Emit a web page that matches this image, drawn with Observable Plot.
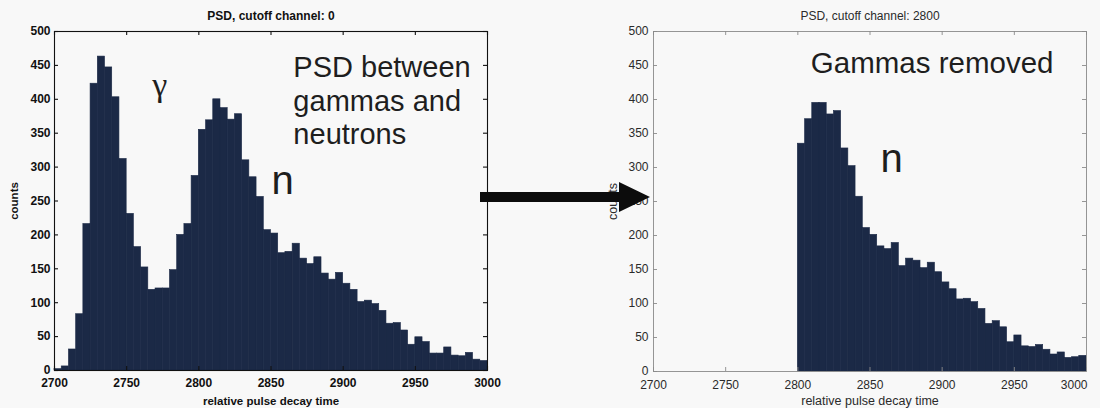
<!DOCTYPE html>
<html>
<head>
<meta charset="utf-8">
<script src="https://cdn.jsdelivr.net/npm/d3@7"></script>
<script src="https://cdn.jsdelivr.net/npm/@observablehq/plot@0.6"></script>
<style>
  html, body { margin: 0; padding: 0; background: #f8f8f8; }
  #wrap { position: relative; width: 1100px; height: 408px; overflow: hidden; }
  #left, #right { position: absolute; top: 0; }
  #left { left: 0; }
  #right { left: 600px; }
  #arrow { position: absolute; left: 0; top: 0; pointer-events: none; }
</style>
</head>
<body>
<div id="wrap">
  <div id="left"></div>
  <div id="right"></div>
  <!-- arrow from the full spectrum to the cut spectrum -->
  <svg id="arrow" width="1100" height="408">
    <path d="M480,192 H619 V182 L650,197 L619,212 V202 H480 Z" fill="#0c0c0c"/>
  </svg>
</div>
<script>
// Histogram bin width (channels) and first bin edge of each spectrum
const binWidth = 5;
const fullStart = 2700;
const cutStart = 2800;

// Counts per bin, full spectrum (cutoff channel 0), bins from 2700 to 3000
const fullCounts = [
  2, 6, 31, 83, 216, 423, 463, 447, 403, 312,
  231, 182, 152, 119, 121, 121, 148, 200, 216, 287,
  355, 369, 400, 387, 370, 378, 310, 285, 256, 207,
  202, 173, 175, 187, 165, 157, 167, 143, 134, 144,
  128, 119, 101, 103, 98, 88, 69, 70, 59, 38,
  49, 42, 25, 25, 34, 22, 21, 26, 16, 14
];

// Counts per bin after the cutoff at channel 2800, bins from 2800 to 3000
const cutCounts = [
  335, 371, 395, 395, 378, 383, 328, 302, 257, 211,
  201, 184, 180, 189, 155, 166, 163, 152, 160, 146,
  131, 121, 106, 107, 102, 92, 70, 74, 65, 43,
  53, 37, 36, 39, 32, 25, 28, 20, 21, 23
];

const yTicks = [0, 50, 100, 150, 200, 250, 300, 350, 400, 450, 500];
const xTicks = [2700, 2750, 2800, 2850, 2900, 2950, 3000];

const barColor = "#1b2946";
const plain = d3.format("d");

function psdPanel(o) {
  const bins = o.counts.map((c, i) => ({
    x1: o.start + i * binWidth,
    x2: o.start + (i + 1) * binWidth,
    count: c
  }));
  const W = 500, H = 408;
  const pw = W - o.ml - o.mr, ph = H - o.mt - o.mb;
  const tick = 4;
  const font = {fontSize: o.fontSize, fontWeight: o.fontWeight, fill: o.ink};
  // the last x label is right-aligned on the box edge when the panel sits at the page edge
  const centred = o.endLabel ? xTicks.slice(0, -1) : xTicks;
  return Plot.plot({
    width: W, height: H,
    marginLeft: o.ml, marginRight: o.mr, marginTop: o.mt, marginBottom: o.mb,
    style: {background: "transparent", fontFamily: "'Liberation Sans', Arial, sans-serif", overflow: "visible"},
    x: {domain: [2700, 3000]},
    y: {domain: [0, 500]},
    marks: [
      Plot.rectY(bins, {x1: "x1", x2: "x2", y: "count", fill: barColor, stroke: barColor, strokeWidth: 0.6}),
      // inward ticks on all four sides of the box
      Plot.tickY(yTicks, {y: d => d, insetRight: pw - tick, stroke: o.axisColor, strokeWidth: o.axisWidth}),
      Plot.tickY(yTicks, {y: d => d, insetLeft: pw - tick, stroke: o.axisColor, strokeWidth: o.axisWidth}),
      Plot.tickX(xTicks, {x: d => d, insetTop: ph - tick, stroke: o.axisColor, strokeWidth: o.axisWidth}),
      Plot.tickX(xTicks, {x: d => d, insetBottom: ph - tick, stroke: o.axisColor, strokeWidth: o.axisWidth}),
      Plot.frame({stroke: o.axisColor, strokeWidth: o.axisWidth}),
      Plot.axisY(yTicks, {tickSize: 0, tickPadding: o.yPad, tickFormat: plain, ...font, label: null}),
      Plot.axisX(centred, {tickSize: 0, tickPadding: o.xPad, tickFormat: plain, ...font, label: null}),
      o.endLabel ? Plot.text(xTicks.slice(-1), {
        x: d => d, frameAnchor: "bottom", dy: o.xPad, dx: 1,
        text: d => plain(d), textAnchor: "end", lineAnchor: "top", ...font
      }) : null,
      // axis titles
      Plot.text(["counts"], {
        frameAnchor: "left", dx: -o.yLabelOffset, rotate: -90,
        textAnchor: "middle", lineAnchor: "middle",
        fontSize: o.labelSize, fontWeight: o.fontWeight, fill: o.ink
      }),
      Plot.text(["relative pulse decay time"], {
        frameAnchor: "bottom", dy: o.xLabelOffset,
        textAnchor: "middle", lineAnchor: "middle",
        fontSize: o.labelSize, fontWeight: o.fontWeight, fill: o.ink
      }),
      // panel title
      Plot.text([o.title], {
        frameAnchor: "top", dy: -15, textAnchor: "middle", lineAnchor: "middle",
        fontSize: o.titleSize, fontWeight: o.fontWeight, fill: o.ink
      }),
      ...o.notes
    ]
  });
}

const noteFont = {fontFamily: "'Liberation Sans', Arial, sans-serif", fill: "#1e1e1e"};

document.getElementById("left").append(psdPanel({
  counts: fullCounts, start: fullStart,
  title: "PSD, cutoff channel: 0",
  ml: 54, mr: 13, mt: 31, mb: 38,
  fontSize: 12, labelSize: 11.5, titleSize: 12, fontWeight: "bold",
  ink: "#111", axisColor: "#111", axisWidth: 1.1,
  yPad: 4, xPad: 8, yLabelOffset: 40, xLabelOffset: 31,
  endLabel: false,
  notes: [
    Plot.text(["γ"], {x: [2773], y: [421], text: d => d, lineAnchor: "middle", textAnchor: "middle",
      fontSize: 34, fontFamily: "'Liberation Serif', 'DejaVu Serif', serif", fill: "#1e1e1e"}),
    Plot.text(["PSD between\ngammas and\nneutrons"], {x: [2865.5], y: [469], text: d => d,
      textAnchor: "start", lineAnchor: "top", lineHeight: 1.17, fontSize: 29, ...noteFont}),
    Plot.text(["n"], {x: [2858], y: [261], text: d => d, textAnchor: "middle", lineAnchor: "bottom",
      fontSize: 40, ...noteFont})
  ]
}));

document.getElementById("right").append(psdPanel({
  counts: cutCounts, start: cutStart,
  title: "PSD, cutoff channel: 2800",
  ml: 53, mr: 14, mt: 31, mb: 37,
  fontSize: 12, labelSize: 12.5, titleSize: 12, fontWeight: "normal",
  ink: "#2a2a2a", axisColor: "#8a8a8a", axisWidth: 0.9,
  yPad: 5, xPad: 8.5, yLabelOffset: 41, xLabelOffset: 29,
  endLabel: true,
  notes: [
    Plot.text(["Gammas removed"], {x: [2809], y: [470], text: d => d,
      textAnchor: "start", lineAnchor: "top", fontSize: 29.5, ...noteFont}),
    Plot.text(["n"], {x: [2865], y: [293], text: d => d, textAnchor: "middle", lineAnchor: "bottom",
      fontSize: 40, ...noteFont})
  ]
}));
</script>
</body>
</html>
